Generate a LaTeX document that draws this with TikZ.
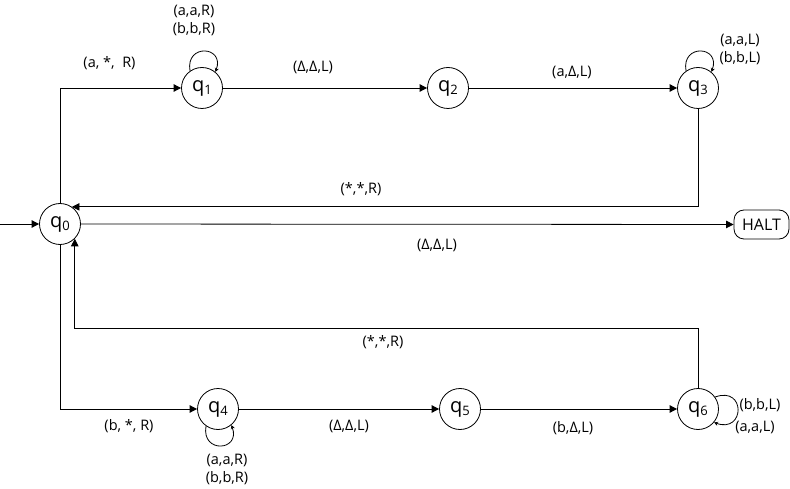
\documentclass[tikz,border=0pt]{standalone}
\usepackage{fontspec}
\setmainfont{Open Sans}
\usetikzlibrary{arrows.meta}
\newcommand{\qs}[1]{q{\fontsize{13}{13}\selectfont\raisebox{-3pt}{#1}}}
\begin{document}
\begin{tikzpicture}[x=1pt,y=-1pt,
  state/.style={circle,draw,line width=0.8pt,minimum size=41pt,inner sep=0pt,font=\fontsize{20}{20}\selectfont},
  haltbox/.style={rectangle,rounded corners=10pt,draw,line width=0.8pt,minimum width=55pt,minimum height=29pt,inner sep=1pt,font=\fontsize{16}{16}\selectfont},
  lbl/.style={font=\fontsize{14.5}{18}\selectfont,inner sep=0pt,align=center},
  tr/.style={line width=0.8pt,-{Triangle[length=7.5pt,width=7.5pt]}},
  lp/.style={line width=0.8pt,-{Stealth[length=4pt,width=4pt]}}]
\useasboundingbox (0,0) rectangle (790,489);
\node[state] (q0) at (60,224) {\qs{0}};
\node[state] (q1) at (202,88) {\qs{1}};
\node[state] (q2) at (448,88) {\qs{2}};
\node[state] (q3) at (698,88) {\qs{3}};
\node[state] (q4) at (218,409) {\qs{4}};
\node[state] (q5) at (460,409) {\qs{5}};
\node[state] (q6) at (698,409) {\qs{6}};
\node[haltbox] (halt) at (761.5,224.5) {HALT};
\coordinate (st) at (0,224);
\coordinate (c6) at (0,328);
% edges
\draw[tr] (st) -- (q0);
\draw[tr] (q0.north) |- (q1.west);
\draw[tr] (q1) -- (q2);
\draw[tr] (q2) -- (q3);
\draw[tr] (q3.south) |- (q0.55);
\draw[tr] (q0) -- (halt);
\draw[tr] (q0.south) |- (q4.west);
\draw[tr] (q4) -- (q5);
\draw[tr] (q5) -- (q6);
\draw[tr] (q6.north) -- (q6.north |- c6) -| (q0.-45);
% loops
\draw[lp] (q1.125) .. controls +(-100:28) and +(-70:28) .. (q1.50);
\draw[lp] (q3.125) .. controls +(-100:28) and +(-70:28) .. (q3.50);
\draw[lp] (q4.235) .. controls +(100:28) and +(70:28) .. (q4.-50);
\draw[lp] (q6.35) .. controls +(-20:33) and +(20:33) .. (q6.-40);
% labels
\node[lbl] (l01) at (109.5,63) {(a, *,\ \ R)};
\node[lbl] (l11) at (194,20) {(a,a,R)\\(b,b,R)};
\node[lbl] (l12) at (313,67) {(Δ,Δ,L)};
\node[lbl] (l23) at (572,72) {(a,Δ,L)};
\node[lbl] (l33) at (740,49) {(a,a,L)\\(b,b,L)};
\node[lbl] (l30) at (361,189) {(*,*,R)};
\node[lbl] (l0h) at (437,245) {(Δ,Δ,L)};
\node[lbl] (l60) at (383,342) {(*,*,R)};
\node[lbl] (l04) at (129,426) {(b, *, R)};
\node[lbl] (l45) at (349,426) {(Δ,Δ,L)};
\node[lbl] (l56) at (573,428) {(b,Δ,L)};
\node[lbl] (l44) at (227,469) {(a,a,R)\\(b,b,R)};
\node[lbl] (l66a) at (760,405) {(b,b,L)};
\node[lbl] (l66b) at (755,427) {(a,a,L)};
\end{tikzpicture}
\end{document}
